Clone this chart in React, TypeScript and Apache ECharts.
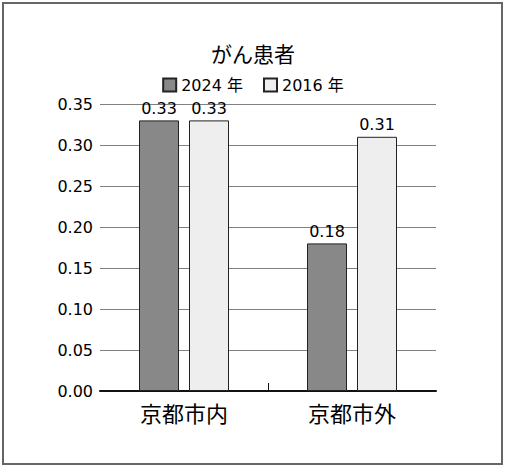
import React, { useEffect, useRef } from "react";
import * as echarts from "echarts";

const title = "がん患者";
const categories = ["京都市内", "京都市外"];
const seriesNames = ["2024 年", "2016 年"];
const values2024 = [0.33, 0.18];
const values2016 = [0.33, 0.31];
const seriesColors = ["#888888", "#eeeeee"];

const FONT = "'DejaVu Sans', 'Noto Sans CJK JP', sans-serif";

export default function App() {
  const ref = useRef<HTMLDivElement>(null);

  useEffect(() => {
    if (!ref.current) return;
    const chart = echarts.init(ref.current, undefined, { renderer: "svg" });
    const barLabel = {
      show: true,
      position: "top" as const,
      distance: 4,
      color: "#000",
      fontSize: 16,
      fontFamily: FONT,
      formatter: (p: any) => Number(p.value).toFixed(2),
    };
    chart.setOption({
      animation: false,
      backgroundColor: "#ffffff",
      textStyle: { fontFamily: FONT },
      title: {
        text: title,
        left: "center",
        top: 39,
        textStyle: { fontSize: 21, fontWeight: "normal", color: "#000", fontFamily: FONT },
      },
      legend: {
        top: 72,
        left: "center",
        itemWidth: 13,
        itemHeight: 13,
        itemGap: 20,
        icon: "rect",
        textStyle: { fontSize: 16, color: "#000", fontFamily: FONT },
        data: seriesNames,
      },
      grid: { left: 100, right: 70, top: 104, bottom: 78, containLabel: false },
      xAxis: [
        {
          type: "category",
          data: categories,
          axisLine: { show: true, lineStyle: { color: "#111", width: 2 } },
          axisTick: { show: false },
          axisLabel: { fontSize: 22, color: "#000", margin: 12, fontFamily: FONT },
        },
        {
          type: "value",
          min: 0,
          max: categories.length,
          position: "bottom",
          axisLine: { show: false },
          axisLabel: { show: false },
          splitLine: { show: false },
          axisTick: {
            show: true,
            inside: true,
            length: 8,
            customValues: [1],
            lineStyle: { color: "#111", width: 1 },
          },
        },
      ],
      yAxis: {
        type: "value",
        min: 0,
        max: 0.35,
        interval: 0.05,
        axisLine: { show: false },
        axisTick: { show: false },
        axisLabel: {
          fontSize: 16,
          color: "#000",
          margin: 7,
          fontFamily: FONT,
          formatter: (v: number) => v.toFixed(2),
        },
        splitLine: { show: true, lineStyle: { color: "#808080", width: 1 } },
      },
      series: [
        {
          name: seriesNames[0],
          type: "bar",
          data: values2024,
          barWidth: 40,
          barGap: "25%",
          itemStyle: { color: seriesColors[0], borderColor: "#222", borderWidth: 1 },
          label: barLabel,
        },
        {
          name: seriesNames[1],
          type: "bar",
          data: values2016,
          barWidth: 40,
          barGap: "25%",
          itemStyle: { color: seriesColors[1], borderColor: "#222", borderWidth: 1 },
          label: barLabel,
        },
      ],
      graphic: [
        {
          type: "rect",
          shape: { x: 3, y: 3, width: 499, height: 461 },
          style: { fill: "none", stroke: "#666", lineWidth: 2 },
          silent: true,
        },
      ],
    });
    return () => chart.dispose();
  }, []);

  return (
    <div
      ref={ref}
      style={{ position: "fixed", left: 0, top: 0, width: 506, height: 469 }}
    />
  );
}
